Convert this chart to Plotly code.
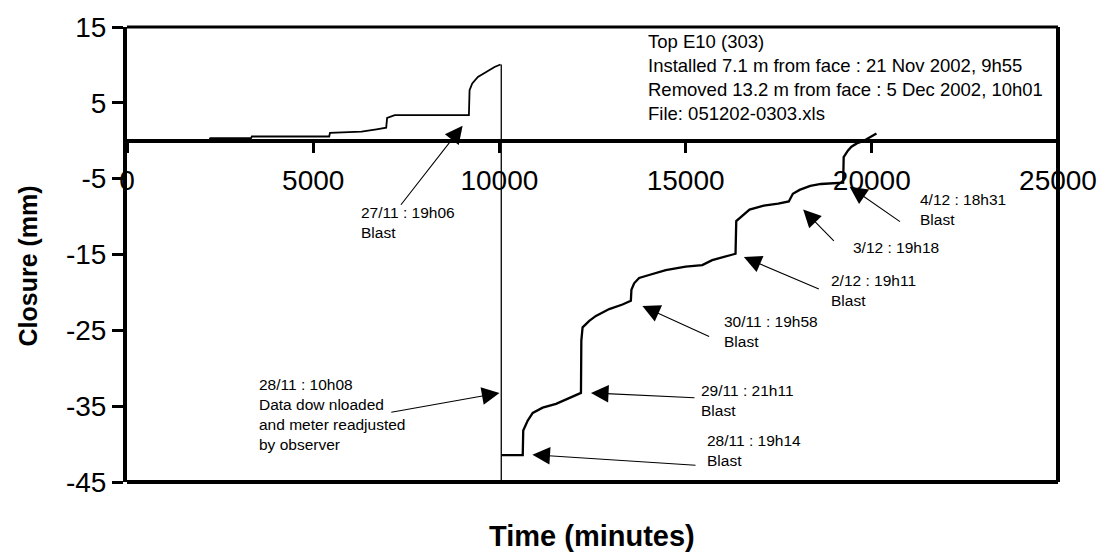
import plotly.graph_objects as go

# Extensometer closure record, Top E10 (303)
# Before the meter was read out and readjusted
time_before = [0, 2200, 2236, 3330, 3353, 5430, 5450, 6298, 6700, 6878, 6960, 6985,
               7190, 9181, 9199, 9271, 9422, 9646, 9869, 10030]
closure_before = [-0.1, -0.1, 0.34, 0.34, 0.56, 0.56, 1.04, 1.2, 1.5, 1.72, 1.72, 3.0,
                  3.37, 3.37, 6.68, 7.55, 8.42, 9.07, 9.72, 10.05]

# After the readjustment
time_after = [10050, 10627, 10640, 10761, 10895, 11162, 11521, 11877, 12190, 12200,
              12234, 12413, 12592, 12949, 13305, 13530, 13545, 13618, 13752, 14020,
              14467, 15002, 15447, 15715, 16073, 16341, 16360, 16524, 16717, 17100,
              17486, 17771, 17880, 18061, 18348, 18636, 19020, 19231, 19245, 19357,
              19453, 19596, 19788, 19933, 20029, 20125]
closure_after = [-41.45, -41.45, -38.2, -36.9, -35.9, -35.2, -34.7, -33.9, -33.25, -26.35,
                 -24.6, -23.75, -23.1, -22.2, -21.6, -21.1, -19.65, -18.8, -18.1, -17.7,
                 -17.05, -16.6, -16.4, -15.75, -15.3, -14.9, -10.6, -9.93, -9.07, -8.55,
                 -8.3, -8.0, -7.0, -6.48, -5.96, -5.7, -5.53, -5.53, -2.16, -1.3,
                 -0.78, -0.35, 0.0, 0.43, 0.78, 0.95]

reset_time = 10050

x_ticks = [0, 5000, 10000, 15000, 20000, 25000]
y_ticks = [15, 5, -5, -15, -25, -35, -45]
y_min, y_max = -45, 15

info_lines = [
    "Top E10 (303)",
    "Installed 7.1 m from face : 21 Nov 2002, 9h55",
    "Removed 13.2 m from face : 5 Dec 2002, 10h01",
    "File: 051202-0303.xls",
]

# Event labels: text, text anchor (time, mm), arrow head (time, mm), arrow tail (time, mm)
event_labels = [
    "27/11 : 19h06<br>Blast",
    "28/11 : 10h08<br>Data dow nloaded<br>and meter readjusted<br>by observer",
    "28/11 : 19h14<br>Blast",
    "29/11 : 21h11<br>Blast",
    "30/11 : 19h58<br>Blast",
    "2/12 : 19h11<br>Blast",
    "3/12 : 19h18",
    "4/12 : 18h31<br>Blast",
]
label_pos = [(6230, -10.74), (3480, -36.05), (15520, -40.8), (15350, -34.2),
             (15980, -25.2), (18860, -19.8), (19430, -14.05), (21230, -9.0)]
arrow_head = [(9012, 1.98), (10002, -33.25), (10886, -41.4), (12458, -33.25),
              (13840, -21.8), (16564, -15.34), (18157, -9.07), (19404, -6.05)]
arrow_tail = [(7325, -8.64), (7057, -35.84), (15306, -42.8), (15279, -33.9),
              (15672, -25.9), (18618, -19.65), (19020, -13.4), (20797, -10.8)]

FONT = "Arial, Liberation Sans, sans-serif"

W, H = 1109, 556
ML, MR, MT, MB = 127, 49, 18, 74
pw, ph = W - ML - MR, H - MT - MB


def px_to_paper(px, py):
    return (px - ML) / pw, (H - MB - py) / ph


fig = go.Figure()
fig.add_trace(go.Scatter(x=time_before, y=closure_before, mode="lines",
                         line=dict(color="black", width=1.8), showlegend=False))
fig.add_trace(go.Scatter(x=time_after, y=closure_after, mode="lines",
                         line=dict(color="black", width=2.3), showlegend=False))

shapes = [
    # readjustment marker
    dict(type="line", xref="x", yref="y", x0=reset_time, x1=reset_time,
         y0=closure_before[-1], y1=y_min, line=dict(color="black", width=1.3)),
    # plot frame: top, right, bottom
    dict(type="line", xref="x domain", yref="y domain", x0=0, x1=1, y0=1, y1=1,
         line=dict(color="black", width=3)),
    dict(type="line", xref="x domain", yref="y domain", x0=1, x1=1, y0=0, y1=1,
         line=dict(color="black", width=4)),
    dict(type="line", xref="x domain", yref="y domain", x0=0, x1=1, y0=0, y1=0,
         line=dict(color="black", width=4)),
]

annotations = []
for (hx, hy), (tx, ty) in zip(arrow_head, arrow_tail):
    annotations.append(dict(x=hx, y=hy, ax=tx, ay=ty, xref="x", yref="y",
                            axref="x", ayref="y", text="", showarrow=True,
                            arrowhead=2, arrowsize=3.2, arrowwidth=1.1,
                            arrowcolor="black", standoff=0))
for txt, (lx, ly) in zip(event_labels, label_pos):
    annotations.append(dict(x=lx, y=ly, xref="x", yref="y", text=txt,
                            showarrow=False, xanchor="left", yanchor="middle",
                            align="left", font=dict(family=FONT, size=15.5, color="black")))

annotations.append(dict(x=13940, y=8.4, xref="x", yref="y", text="<br>".join(info_lines),
                        showarrow=False, xanchor="left", yanchor="middle", align="left",
                        font=dict(family=FONT, size=18.5, color="black")))

# axis titles
tx, ty = px_to_paper(593, 537)
annotations.append(dict(x=tx, y=ty, xref="paper", yref="paper", xanchor="center",
                        yanchor="middle", text="<b>Time (minutes)</b>", showarrow=False,
                        font=dict(family=FONT, size=29, color="black")))
tx, ty = px_to_paper(28, 262)
annotations.append(dict(x=tx, y=ty, xref="paper", yref="paper", xanchor="center",
                        yanchor="middle", text="<b>Closure (mm)</b>", showarrow=False,
                        textangle=-90, font=dict(family=FONT, size=25, color="black")))

fig.update_layout(
    width=W, height=H,
    margin=dict(l=ML, r=MR, t=MT, b=MB),
    paper_bgcolor="white", plot_bgcolor="white",
    font=dict(family=FONT, color="black"),
    showlegend=False,
    shapes=shapes,
    annotations=annotations,
    xaxis=dict(range=[0, 25000], tickvals=x_ticks, ticktext=[str(v) for v in x_ticks],
               anchor="free", position=(0 - y_min) / (y_max - y_min),
               showline=True, linecolor="black", linewidth=4,
               ticks="outside", ticklen=10, tickwidth=3, tickcolor="black",
               ticklabelstandoff=4,
               tickfont=dict(size=28, family=FONT, color="black"),
               showgrid=False, zeroline=False),
    yaxis=dict(range=[y_min, y_max], tickvals=y_ticks, ticktext=[str(v) for v in y_ticks],
               showline=True, linecolor="black", linewidth=4,
               ticks="outside", ticklen=11, tickwidth=3, tickcolor="black",
               tickfont=dict(size=28, family=FONT, color="black"),
               showgrid=False, zeroline=False),
)

fig.write_html("out.html")
